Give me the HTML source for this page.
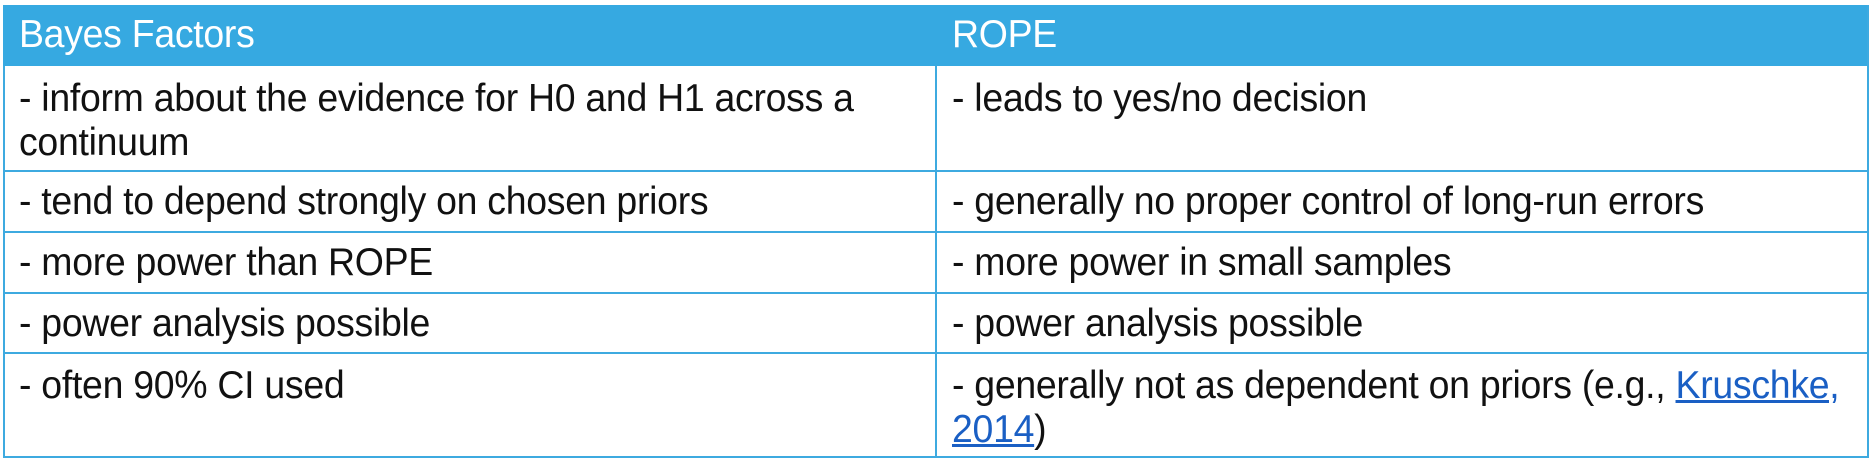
<!DOCTYPE html>
<html><head><meta charset="utf-8"><style>
html,body{margin:0;padding:0;background:#fff;width:1872px;height:474px;overflow:hidden}
body{font-family:"Liberation Sans",sans-serif;color:#111}
.hdr{position:absolute;left:3px;top:5px;width:1866px;height:61px;background:#36a9e1}
.cell{position:absolute;font-size:39px;line-height:44px;white-space:nowrap;transform:scaleX(0.96);transform-origin:0 0;letter-spacing:-0.3px}
.h{color:#fff;top:13px}
.hl{position:absolute;height:2px;background:#3eaae0;left:3px;width:1866px}
.vl{position:absolute;width:2px;background:#3eaae0}
a{color:#1a5fc4;text-decoration:underline}
</style></head><body>
<div>
<div class="hdr"></div>
<div class="cell h" style="left:19px">Bayes Factors</div>
<div class="cell h" style="left:952px">ROPE</div>

<div class="vl" style="left:3px;top:66px;height:392px"></div>
<div class="vl" style="left:935px;top:66px;height:392px"></div>
<div class="vl" style="left:1867px;top:5px;height:453px"></div>
<div class="hl" style="top:170px"></div>
<div class="hl" style="top:231px"></div>
<div class="hl" style="top:292px"></div>
<div class="hl" style="top:352px"></div>
<div class="hl" style="top:456px"></div>

<div class="cell" style="left:19px;top:77px">- inform about the evidence for H0 and H1 across a<br>continuum</div>
<div class="cell" style="left:952px;top:77px">- leads to yes/no decision</div>
<div class="cell" style="left:19px;top:180px">- tend to depend strongly on chosen priors</div>
<div class="cell" style="left:952px;top:180px">- generally no proper control of long-run errors</div>
<div class="cell" style="left:19px;top:241px">- more power than ROPE</div>
<div class="cell" style="left:952px;top:241px">- more power in small samples</div>
<div class="cell" style="left:19px;top:302px">- power analysis possible</div>
<div class="cell" style="left:952px;top:302px">- power analysis possible</div>
<div class="cell" style="left:19px;top:364px">- often 90% CI used</div>
<div class="cell" style="left:952px;top:364px">- generally not as dependent on priors (e.g., <a>Kruschke,<br>2014</a>)</div>
</div>
</body></html>
